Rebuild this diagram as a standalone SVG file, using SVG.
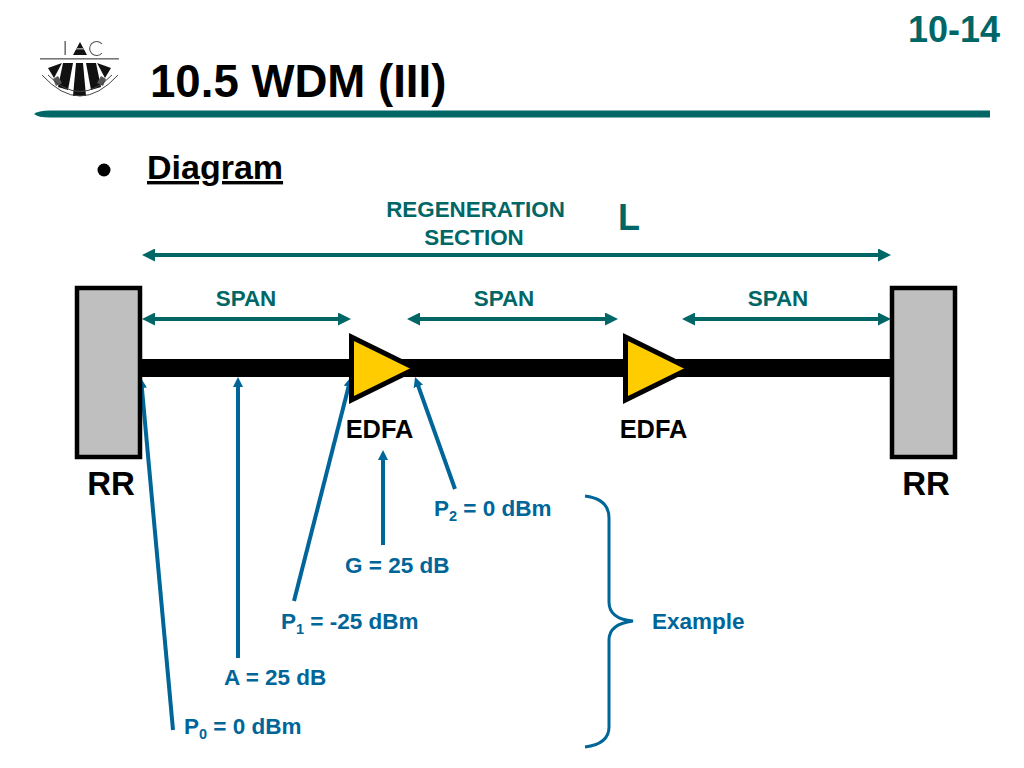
<svg xmlns="http://www.w3.org/2000/svg" width="1024" height="768" viewBox="0 0 1024 768">
<style>
text{font-family:"Liberation Sans",Arial,sans-serif;font-weight:bold}
.t{fill:#006666;font-size:22.4px;text-anchor:middle}
.b{fill:#006699;font-size:22.5px}
.k{fill:#000;font-size:25.4px;text-anchor:middle}
.rr{fill:#000;font-size:33px;text-anchor:middle}
.s{font-size:14.5px}
.tl{stroke:#006666;stroke-width:4;fill:none}
.bl{stroke:#006699;stroke-width:4;fill:none}
.box{fill:#bfbfbf;stroke:#000;stroke-width:4.5}
.tri{fill:#ffcc00;stroke:#000;stroke-width:5}
</style>
<defs>
<marker id="ta" viewBox="0 0 13 13" refX="9" refY="6.500" markerWidth="13" markerHeight="13" markerUnits="userSpaceOnUse" orient="auto-start-reverse"><path d="M0 0L13 6.500L0 13z" fill="#006666"/></marker>
<marker id="ba" viewBox="0 0 10 10" refX="3" refY="5" markerWidth="10" markerHeight="10" markerUnits="userSpaceOnUse" orient="auto"><path d="M0 0L10 5L0 10z" fill="#006699"/></marker>
</defs>
<rect width="1024" height="768" fill="#fff"/>
<g id="logo">
<rect x="64.500" y="41" width="1.300" height="14" fill="#555"/>
<path d="M73 55L80 42L87 55z" fill="#111"/>
<rect x="76" y="48" width="8" height="1.500" fill="#999"/>
<path d="M102 44A7 7 0 1 0 102 53" fill="none" stroke="#555" stroke-width="1.100"/>
<rect x="40" y="58" width="79" height="1.600" fill="#777"/>
<path d="M48 68L62 63L54 78z" fill="#111"/>
<path d="M63 63L73 63L68 90L58 87z" fill="#111"/>
<path d="M76 63L83 63L86 96L73 96z" fill="#111"/>
<path d="M86 63L96 63L101 87L91 90z" fill="#111"/>
<path d="M97 63L111 68L105 78z" fill="#111"/>
<path d="M53 79L58 76L62 83L56 86z" fill="#555"/>
<path d="M106 79L101 76L97 83L103 86z" fill="#555"/>
<path d="M42 75Q80 117 118 75" fill="none" stroke="#444" stroke-width="1"/>
<path d="M48 75Q80 108 112 75" fill="none" stroke="#444" stroke-width="1"/>
</g>
<path id="rule" d="M34 114Q38 110.500 50 110.500L990 110.500L990 117.500L50 117.500Q38 117.500 34 114z" fill="#006666"/>
<text x="954" y="42" font-size="36" fill="#006666" text-anchor="middle">10-14</text>
<text x="150" y="97" font-size="45.600" fill="#000">10.5 WDM (III)</text>
<circle cx="104" cy="170" r="6.500" fill="#000"/>
<text x="147" y="179" font-size="34" fill="#000" text-decoration="underline">Diagram</text>
<text class="t" x="475.500" y="217">REGENERATION</text>
<text class="t" x="474" y="245">SECTION</text>
<text x="629" y="230" font-size="36" fill="#006666" text-anchor="middle">L</text>
<text class="t" x="246" y="306">SPAN</text>
<text class="t" x="504" y="306">SPAN</text>
<text class="t" x="778" y="306">SPAN</text>
<g id="connectors">
<rect x="140" y="359" width="752" height="18" fill="#000"/>
<path class="tl" d="M146 255L887 255" marker-start="url(#ta)" marker-end="url(#ta)"/>
<path class="tl" d="M146 319L347 319" marker-start="url(#ta)" marker-end="url(#ta)"/>
<path class="tl" d="M411 319L614 319" marker-start="url(#ta)" marker-end="url(#ta)"/>
<path class="tl" d="M686 319L887 319" marker-start="url(#ta)" marker-end="url(#ta)"/>
<path class="bl" d="M173 730L141.600 385" marker-end="url(#ba)"/>
<path class="bl" d="M238 658L238 384" marker-end="url(#ba)"/>
<path class="bl" d="M294 601L349.300 383.800" marker-end="url(#ba)"/>
<path class="bl" d="M383 545L383 457" marker-end="url(#ba)"/>
<path class="bl" d="M455 489L417.400 383.600" marker-end="url(#ba)"/>
<path d="M585 496Q609 499 609 518L609 602Q609 619 633 621Q609 624 609 640L609 727Q609 744 585 747" fill="none" stroke="#006699" stroke-width="3"/>
</g>
<g id="rr-left"><rect class="box" x="77" y="288" width="63" height="169"/><text class="rr" x="111" y="495">RR</text></g>
<g id="rr-right"><rect class="box" x="892" y="288" width="63" height="169"/><text class="rr" x="926" y="495">RR</text></g>
<g id="edfa-1"><path class="tri" d="M351.500 337L415.500 368.500L351.500 400z"/><text class="k" x="379.500" y="438">EDFA</text></g>
<g id="edfa-2"><path class="tri" d="M625.500 337L689.500 368.500L625.500 400z"/><text class="k" x="653.500" y="438">EDFA</text></g>
<text class="b" x="434" y="516">P<tspan class="s" dy="5">2</tspan><tspan dy="-5"> = 0 dBm</tspan></text>
<text class="b" x="345" y="573">G = 25 dB</text>
<text class="b" x="281" y="629">P<tspan class="s" dy="5">1</tspan><tspan dy="-5"> = -25 dBm</tspan></text>
<text class="b" x="224" y="685">A = 25 dB</text>
<text class="b" x="184" y="734">P<tspan class="s" dy="5">0</tspan><tspan dy="-5"> = 0 dBm</tspan></text>
<text class="b" x="652" y="629">Example</text>
</svg>
